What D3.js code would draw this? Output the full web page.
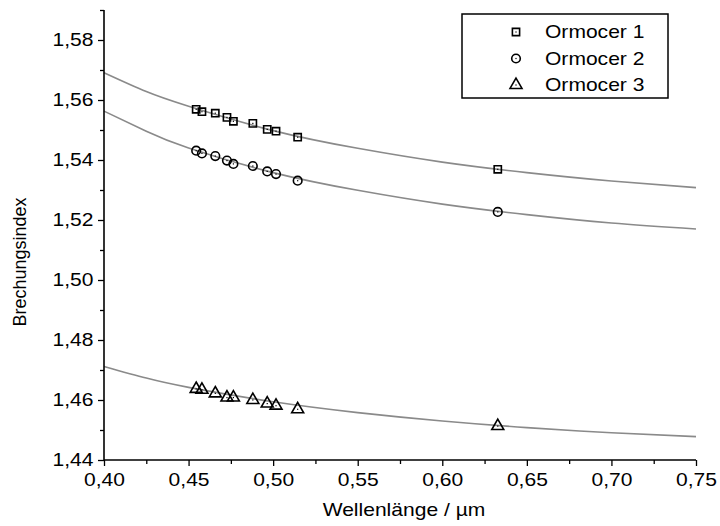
<!DOCTYPE html>
<html>
<head>
<meta charset="utf-8">
<title>Brechungsindex</title>
<script src="https://cdn.jsdelivr.net/npm/d3@7"></script>
<style>
  body { margin: 0; background: #fff; }
  text { font-family: Arial, "Liberation Sans", sans-serif; fill: #000; }
</style>
</head>
<body>
<script>
// measured points (wavelength in um)
var wl = [0.4545, 0.4579, 0.4658, 0.4727, 0.4765, 0.4880, 0.4965, 0.5017, 0.5145, 0.6328];
var orm1 = [1.5569, 1.5561, 1.5556, 1.5542, 1.5529, 1.5522, 1.5502, 1.5496, 1.5476, 1.5369];
var orm2 = [1.5431, 1.5422, 1.5413, 1.5398, 1.5387, 1.5380, 1.5362, 1.5353, 1.5331, 1.5227];
var orm3 = [1.4637, 1.4634, 1.4622, 1.4608, 1.4608, 1.4600, 1.4588, 1.4581, 1.4569, 1.4513];

var fitX = [0.40, 0.425, 0.45, 0.50, 0.55, 0.60, 0.65, 0.70, 0.75];
var fit1 = [1.5691, 1.5628, 1.5579, 1.5498, 1.5439, 1.5393, 1.5358, 1.5330, 1.5308];
var fit2 = [1.5563, 1.5496, 1.5440, 1.5358, 1.5299, 1.5253, 1.5218, 1.5190, 1.5170];
var fit3 = [1.4712, 1.4673, 1.4642, 1.4594, 1.4558, 1.4530, 1.4508, 1.4491, 1.4478];

var names = ["Ormocer 1", "Ormocer 2", "Ormocer 3"];
var xTicks = [0.40, 0.45, 0.50, 0.55, 0.60, 0.65, 0.70, 0.75];
var yTicks = [1.44, 1.46, 1.48, 1.50, 1.52, 1.54, 1.56, 1.58];

var W = 720, H = 526;
var SX = 1.17; // text in the original is a bit wide
var x = d3.scaleLinear().domain([0.40, 0.75]).range([104, 696]);
var y = d3.scaleLinear().domain([1.44, 1.59]).range([460, 10]);
var fmt = function(d) { return d.toFixed(2).replace(".", ","); };

var svg = d3.select("body").append("svg")
    .attr("width", W).attr("height", H);

// curves
var line = d3.line()
    .x(function(d) { return x(d[0]); })
    .y(function(d) { return y(d[1]); })
    .curve(d3.curveNatural);

[fit1, fit2, fit3].forEach(function(f) {
    svg.append("path")
        .datum(d3.zip(fitX, f))
        .attr("d", line)
        .attr("fill", "none")
        .attr("stroke", "#8a8a8a")
        .attr("stroke-width", 1.6);
});

// markers
var symbols = [d3.symbolSquare, d3.symbolCircle, d3.symbolTriangle];
var sizes = [52, 58, 62];
function marker(g, i) {
    g.append("path")
        .attr("d", d3.symbol().type(symbols[i]).size(sizes[i]))
        .attr("fill", "none")
        .attr("stroke", "#000")
        .attr("stroke-width", 1.6);
    g.append("rect")
        .attr("x", -0.6).attr("y", -0.6).attr("width", 1.2).attr("height", 1.2)
        .attr("fill", "#000");
}

[orm1, orm2, orm3].forEach(function(s, i) {
    svg.append("g").selectAll("g")
        .data(d3.zip(wl, s))
        .enter().append("g")
        .attr("transform", function(d) { return "translate(" + x(d[0]) + "," + y(d[1]) + ")"; })
        .each(function() { marker(d3.select(this), i); });
});

// axes
var xAxis = d3.axisBottom(x).tickValues(xTicks).tickFormat(fmt).tickSize(6).tickPadding(7);
var xMinor = d3.axisBottom(x).tickValues(d3.range(0.425, 0.75, 0.05)).tickFormat("").tickSize(4);
var yAxis = d3.axisLeft(y).tickValues(yTicks).tickFormat(fmt).tickSize(6).tickPadding(3);
var yMinor = d3.axisLeft(y).tickValues([1.45, 1.47, 1.49, 1.51, 1.53, 1.55, 1.57, 1.59]).tickFormat("").tickSize(4);

function styleAxis(g) {
    g.select(".domain").remove();
    g.selectAll("line").attr("stroke", "#000").attr("stroke-width", 1.3);
    g.selectAll("text").style("font-size", "18px").attr("transform", "scale(" + SX + ",1)");
}

svg.append("g").attr("transform", "translate(0,460)").call(xMinor).call(styleAxis);
svg.append("g").attr("transform", "translate(0,460)").call(xAxis).call(styleAxis);
svg.append("g").attr("transform", "translate(104,0)").call(yMinor).call(styleAxis);
svg.append("g").attr("transform", "translate(104,0)").call(yAxis).call(styleAxis);

svg.append("line").attr("x1", 104).attr("x2", 696).attr("y1", 460).attr("y2", 460)
    .attr("stroke", "#000").attr("stroke-width", 1.6);
svg.append("line").attr("x1", 104).attr("x2", 104).attr("y1", 10).attr("y2", 460)
    .attr("stroke", "#000").attr("stroke-width", 1.6);

// axis titles
svg.append("text")
    .attr("transform", "translate(404,516) scale(" + SX + ",1)")
    .attr("text-anchor", "middle")
    .style("font-size", "18px")
    .text("Wellenlänge / µm");
svg.append("text")
    .attr("transform", "translate(26,262) rotate(-90)")
    .attr("text-anchor", "middle")
    .style("font-size", "18px")
    .text("Brechungsindex");

// legend
var leg = svg.append("g");
leg.append("rect")
    .attr("x", 462).attr("y", 14).attr("width", 206).attr("height", 84)
    .attr("fill", "#fff").attr("stroke", "#000").attr("stroke-width", 1.5);
names.forEach(function(n, i) {
    var cy = 32 + i * 26.5;
    var g = leg.append("g").attr("transform", "translate(516," + cy + ")");
    marker(g, i);
    leg.append("text")
        .attr("transform", "translate(545," + cy + ") scale(" + SX + ",1)")
        .attr("dy", "0.36em")
        .style("font-size", "18px")
        .text(n);
});
</script>
</body>
</html>
